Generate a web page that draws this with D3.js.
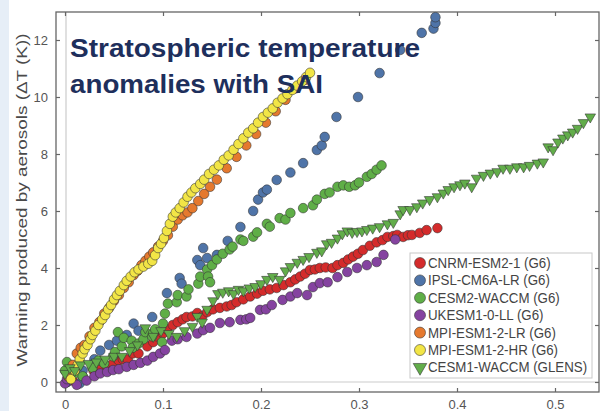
<!DOCTYPE html>
<html><head><meta charset="utf-8">
<script src="https://cdn.jsdelivr.net/npm/d3@7"></script>
<style>
html,body{margin:0;padding:0;background:#fff;}
svg{display:block;}
</style></head>
<body>
<svg id="chart" width="604" height="411"></svg>
<script>
// ---------- DATA ----------
const seriesNames = ["CNRM-ESM2-1 (G6)","IPSL-CM6A-LR (G6)","CESM2-WACCM (G6)","UKESM1-0-LL (G6)","MPI-ESM1-2-LR (G6)","MPI-ESM1-2-HR (G6)","CESM1-WACCM (GLENS)"];
const xTicks = [0,0.1,0.2,0.3,0.4,0.5];
const yTicks = [0,2,4,6,8,10,12];
const titleLines = ["Stratospheric temperature","anomalies with SAI"];
const yLabel = "Warming produced by aerosols (\u0394T (K))";

const cnrm = [[0.002,0.0],[0.008,0.05],[0.018,0.2],[0.029,0.4],[0.036,0.5],[0.043,0.55],[0.049,0.65],[0.055,0.75],[0.059,0.8],[0.064,0.8],[0.069,1.0],[0.075,1.0],[0.084,1.25],[0.09,1.4],[0.094,1.6],[0.1,1.7],[0.104,1.85],[0.11,2.0],[0.115,2.1],[0.12,2.2],[0.124,2.28],[0.13,2.3],[0.135,2.42],[0.14,2.3],[0.145,2.45],[0.151,2.55],[0.158,2.6],[0.165,2.65],[0.17,2.7],[0.175,2.8],[0.182,2.9],[0.189,3.0],[0.196,3.1],[0.202,3.2],[0.209,3.25],[0.216,3.3],[0.223,3.4],[0.23,3.5],[0.235,3.6],[0.24,3.7],[0.245,3.8],[0.25,3.93],[0.255,3.95],[0.26,4.0],[0.266,4.02],[0.273,4.0],[0.278,4.1],[0.284,4.18],[0.289,4.3],[0.294,4.4],[0.299,4.5],[0.304,4.63],[0.311,4.78],[0.318,4.9],[0.324,4.98],[0.329,5.09],[0.335,5.12],[0.339,5.16],[0.345,5.09],[0.35,5.15],[0.354,5.16],[0.362,5.23],[0.369,5.33],[0.38,5.4]];
const ipsl = [[0.002,0.0],[0.015,-0.05],[0.018,0.4],[0.03,0.8],[0.036,1.1],[0.045,1.3],[0.053,1.45],[0.063,1.65],[0.07,2.05],[0.075,1.8],[0.089,2.28],[0.104,3.12],[0.117,3.65],[0.119,3.45],[0.135,4.28],[0.138,4.1],[0.141,4.7],[0.145,4.35],[0.155,4.46],[0.166,4.95],[0.179,5.44],[0.192,6.0],[0.197,6.4],[0.202,6.65],[0.206,6.75],[0.216,7.09],[0.23,7.35],[0.243,7.68],[0.257,8.14],[0.262,8.3],[0.265,8.6],[0.277,9.3],[0.299,10.0],[0.321,10.84],[0.342,11.65],[0.364,12.25],[0.376,12.4],[0.378,12.6],[0.378,12.8]];
const cesm2 = [[0.0,0.4],[0.002,0.7],[0.01,0.3],[0.018,0.2],[0.028,0.5],[0.034,0.75],[0.04,0.65],[0.049,0.9],[0.051,1.05],[0.054,1.75],[0.058,1.25],[0.06,1.55],[0.068,1.45],[0.069,1.2],[0.075,1.35],[0.08,1.5],[0.082,1.75],[0.089,1.6],[0.09,1.72],[0.092,1.85],[0.099,1.4],[0.1,2.05],[0.102,2.4],[0.105,2.75],[0.114,2.8],[0.115,3.05],[0.124,3.0],[0.126,3.25],[0.136,3.45],[0.138,3.7],[0.145,3.95],[0.146,3.7],[0.148,3.5],[0.15,4.1],[0.155,4.3],[0.161,4.5],[0.168,4.65],[0.171,4.75],[0.179,5.0],[0.182,4.95],[0.192,5.1],[0.196,5.25],[0.206,5.55],[0.209,5.45],[0.219,5.75],[0.225,5.7],[0.23,5.93],[0.243,6.1],[0.253,6.2],[0.257,6.4],[0.265,6.6],[0.27,6.65],[0.278,6.85],[0.284,6.9],[0.29,6.85],[0.296,6.9],[0.3,7.0],[0.308,7.2],[0.313,7.3],[0.318,7.45],[0.323,7.6]];
const ukesm = [[0.0,-0.05],[0.002,0.1],[0.012,-0.1],[0.022,0.05],[0.03,0.2],[0.036,0.3],[0.043,0.35],[0.049,0.42],[0.055,0.45],[0.063,0.53],[0.07,0.6],[0.077,0.67],[0.084,0.75],[0.09,0.88],[0.097,1.0],[0.102,1.12],[0.109,1.45],[0.115,1.5],[0.124,1.58],[0.135,1.7],[0.141,1.82],[0.148,1.9],[0.158,2.07],[0.168,2.1],[0.179,2.18],[0.185,2.2],[0.189,2.25],[0.199,2.53],[0.205,2.55],[0.211,2.7],[0.222,2.88],[0.23,3.0],[0.237,3.12],[0.247,3.05],[0.253,3.33],[0.26,3.47],[0.268,3.5],[0.278,3.68],[0.288,3.86],[0.298,4.0],[0.308,4.1],[0.318,4.21],[0.325,4.46],[0.337,5.0]];
const mpiLR = [[0.003,0.2],[0.008,0.6],[0.012,1.0],[0.016,1.2],[0.02,1.3],[0.025,1.6],[0.03,1.9],[0.035,2.1],[0.04,2.4],[0.045,2.6],[0.05,2.85],[0.055,3.05],[0.06,3.3],[0.065,3.5],[0.07,3.75],[0.074,3.9],[0.078,4.1],[0.082,4.25],[0.086,4.4],[0.09,4.55],[0.095,4.75],[0.1,4.95],[0.105,5.15],[0.11,5.45],[0.115,5.7],[0.12,5.85],[0.125,5.95],[0.13,6.1],[0.136,6.35],[0.142,6.6],[0.148,6.85],[0.155,7.1],[0.165,7.5],[0.175,7.9],[0.185,8.3],[0.195,8.7],[0.205,9.1],[0.215,9.5],[0.225,9.9],[0.235,10.3],[0.245,10.6]];
const mpiHR = [[0.006,0.1],[0.01,0.4],[0.013,0.6],[0.015,0.8],[0.018,1.0],[0.02,1.15],[0.023,1.3],[0.026,1.5],[0.028,1.65],[0.031,1.8],[0.034,2.0],[0.038,2.2],[0.041,2.35],[0.044,2.55],[0.047,2.7],[0.05,2.9],[0.053,3.05],[0.056,3.2],[0.06,3.4],[0.063,3.55],[0.067,3.7],[0.071,3.85],[0.075,3.95],[0.08,4.05],[0.085,4.15],[0.089,4.25],[0.092,4.45],[0.095,4.7],[0.098,4.85],[0.101,5.05],[0.104,5.3],[0.107,5.55],[0.11,5.8],[0.113,5.95],[0.117,6.1],[0.121,6.3],[0.125,6.5],[0.129,6.65],[0.133,6.8],[0.138,6.95],[0.142,7.1],[0.147,7.3],[0.152,7.45],[0.157,7.6],[0.162,7.8],[0.167,7.95],[0.172,8.15],[0.177,8.35],[0.182,8.55],[0.187,8.75],[0.192,8.9],[0.197,9.1],[0.202,9.3],[0.207,9.45],[0.212,9.6],[0.217,9.8],[0.222,9.95],[0.227,10.1],[0.232,10.25],[0.237,10.4],[0.242,10.55],[0.246,10.7],[0.25,10.85]];
const glens = [[0.0,0.3],[0.005,0.5],[0.01,0.4],[0.016,0.6],[0.024,0.65],[0.032,0.7],[0.041,0.8],[0.05,0.9],[0.058,0.9],[0.066,1.1],[0.074,1.3],[0.082,1.9],[0.09,1.6],[0.098,1.8],[0.106,1.7],[0.114,1.6],[0.122,1.8],[0.13,1.95],[0.135,2.3],[0.14,2.1],[0.145,2.55],[0.151,2.85],[0.156,3.1],[0.161,3.15],[0.167,3.2],[0.172,3.1],[0.177,3.25],[0.182,3.2],[0.188,3.3],[0.194,3.35],[0.2,3.45],[0.206,3.6],[0.212,3.7],[0.219,3.6],[0.225,3.9],[0.23,4.05],[0.237,4.2],[0.243,4.3],[0.249,4.4],[0.257,4.55],[0.262,4.6],[0.267,4.85],[0.272,4.9],[0.278,5.05],[0.283,5.2],[0.288,5.3],[0.293,5.25],[0.298,5.28],[0.303,5.3],[0.308,5.35],[0.314,5.4],[0.321,5.45],[0.329,5.55],[0.335,5.6],[0.342,5.9],[0.345,6.05],[0.352,6.05],[0.359,6.15],[0.365,6.28],[0.372,6.4],[0.38,6.5],[0.386,6.63],[0.391,6.75],[0.397,6.85],[0.403,6.92],[0.408,6.98],[0.415,6.85],[0.42,7.15],[0.427,7.25],[0.434,7.33],[0.441,7.38],[0.447,7.5],[0.454,7.5],[0.461,7.55],[0.468,7.55],[0.474,7.6],[0.482,7.68],[0.488,7.72],[0.493,8.25],[0.498,8.15],[0.503,8.42],[0.508,8.56],[0.513,8.67],[0.518,8.77],[0.523,8.9],[0.529,9.1],[0.536,9.3]];

const seriesData = [cnrm, ipsl, cesm2, ukesm, mpiLR, mpiHR, glens];
const seriesColors = ["#d42b2b","#4f74a8","#5fae47","#8543a0","#e5792e","#f2e546","#62ad4a"];
const seriesShapes = ["circle","circle","circle","circle","circle","circle","triangle"];

// ---------- LAYOUT ----------
const W = 604, H = 411;
const frame = {left:56, right:599, top:12, bottom:392};
const svg = d3.select("#chart");
const x = d3.scaleLinear().domain([0,0.55]).range([65,604]);
const y = d3.scaleLinear().domain([0,12]).range([382,40]);
const font = "'Liberation Sans',Arial,sans-serif";

svg.append("rect").attr("x",0).attr("y",0).attr("width",W).attr("height",H).attr("fill","#ffffff");
svg.append("rect").attr("x",0).attr("y",0).attr("width",9).attr("height",H).attr("fill","#e6eef7");

// zero lines
svg.append("line").attr("x1",x(0)+1).attr("x2",x(0)+1).attr("y1",frame.top).attr("y2",frame.bottom)
  .attr("stroke","#cccccc").attr("stroke-width",1.2);
svg.append("line").attr("x1",frame.left).attr("x2",frame.right).attr("y1",y(0)).attr("y2",y(0))
  .attr("stroke","#cccccc").attr("stroke-width",1.2);

// frame
svg.append("rect").attr("x",frame.left).attr("y",frame.top)
  .attr("width",frame.right-frame.left).attr("height",frame.bottom-frame.top)
  .attr("fill","none").attr("stroke","#666").attr("stroke-width",1.3);

const fmtX = d => d===0 ? "0" : d3.format(".1f")(d);
const axStyle = g => {
  g.select(".domain").remove();
  g.selectAll(".tick line").attr("stroke","#666").attr("stroke-width",1.2);
  g.selectAll(".tick text").attr("fill","#555").style("font-family",font).style("font-size","13px");
};
svg.append("g").attr("transform",`translate(0,${frame.bottom})`)
  .call(d3.axisBottom(x).tickValues(xTicks).tickFormat(fmtX).tickSizeInner(-4).tickSizeOuter(0).tickPadding(8)).call(axStyle);
svg.append("g").attr("transform",`translate(0,${frame.top})`)
  .call(d3.axisTop(x).tickValues(xTicks).tickFormat("").tickSizeInner(-4).tickSizeOuter(0)).call(axStyle);
svg.append("g").attr("transform",`translate(${frame.left},0)`)
  .call(d3.axisLeft(y).tickValues(yTicks).tickFormat(d3.format("d")).tickSizeInner(-4).tickSizeOuter(0).tickPadding(8)).call(axStyle);
svg.append("g").attr("transform",`translate(${frame.right},0)`)
  .call(d3.axisRight(y).tickValues(yTicks).tickFormat("").tickSizeInner(-4).tickSizeOuter(0)).call(axStyle);

// y label
svg.append("text").attr("transform","translate(27,200) rotate(-90)")
  .attr("text-anchor","middle").attr("fill","#4a4a4a")
  .style("font-family",font).style("font-size","15px")
  .attr("textLength",333).attr("lengthAdjust","spacingAndGlyphs").text(yLabel);

// points
const tri = d3.symbol().type(d3.symbolTriangle).size(48);
seriesData.forEach((data,i) => {
  const g = svg.append("g");
  if (seriesShapes[i]==="circle") {
    g.selectAll("circle").data(data).join("circle")
      .attr("cx",d=>x(d[0])).attr("cy",d=>y(d[1])).attr("r",4.8)
      .attr("fill",seriesColors[i]).attr("stroke","#333").attr("stroke-opacity",0.7).attr("stroke-width",0.8);
  } else {
    g.selectAll("path").data(data).join("path")
      .attr("d",tri).attr("transform",d=>`translate(${x(d[0])},${y(d[1])}) rotate(180)`)
      .attr("fill",seriesColors[i]).attr("stroke","#333").attr("stroke-opacity",0.7).attr("stroke-width",0.8);
  }
});

// legend
const lg = svg.append("g");
lg.append("rect").attr("x",410).attr("y",253).attr("width",182).attr("height",125)
  .attr("fill","#fff").attr("stroke","#c8c8c8").attr("stroke-width",1);
seriesNames.forEach((name,i) => {
  const cy = 263 + i*17.4;
  if (seriesShapes[i]==="circle") {
    lg.append("circle").attr("cx",420).attr("cy",cy).attr("r",5.5)
      .attr("fill",seriesColors[i]).attr("stroke","#333").attr("stroke-opacity",0.7).attr("stroke-width",0.8);
  } else {
    lg.append("path").attr("d",d3.symbol().type(d3.symbolTriangle).size(80))
      .attr("transform",`translate(420,${cy}) rotate(180)`)
      .attr("fill",seriesColors[i]).attr("stroke","#333").attr("stroke-opacity",0.7).attr("stroke-width",0.8);
  }
  const t = lg.append("text").attr("x",428).attr("y",cy+5).attr("fill","#444")
    .style("font-family",font).style("font-size","14px").text(name);
  const len = t.node().getComputedTextLength();
  t.attr("textLength",len*0.95).attr("lengthAdjust","spacingAndGlyphs");
});

// overlay title
const tw = [350,253];
titleLines.forEach((line,i) => {
  svg.append("text").attr("x",70).attr("y",57+i*36).attr("fill","#1e2f5c")
    .style("font-family",font).style("font-size","26px").style("font-weight","bold")
    .attr("textLength",tw[i]).attr("lengthAdjust","spacingAndGlyphs").text(line);
});
</script>
</body></html>
